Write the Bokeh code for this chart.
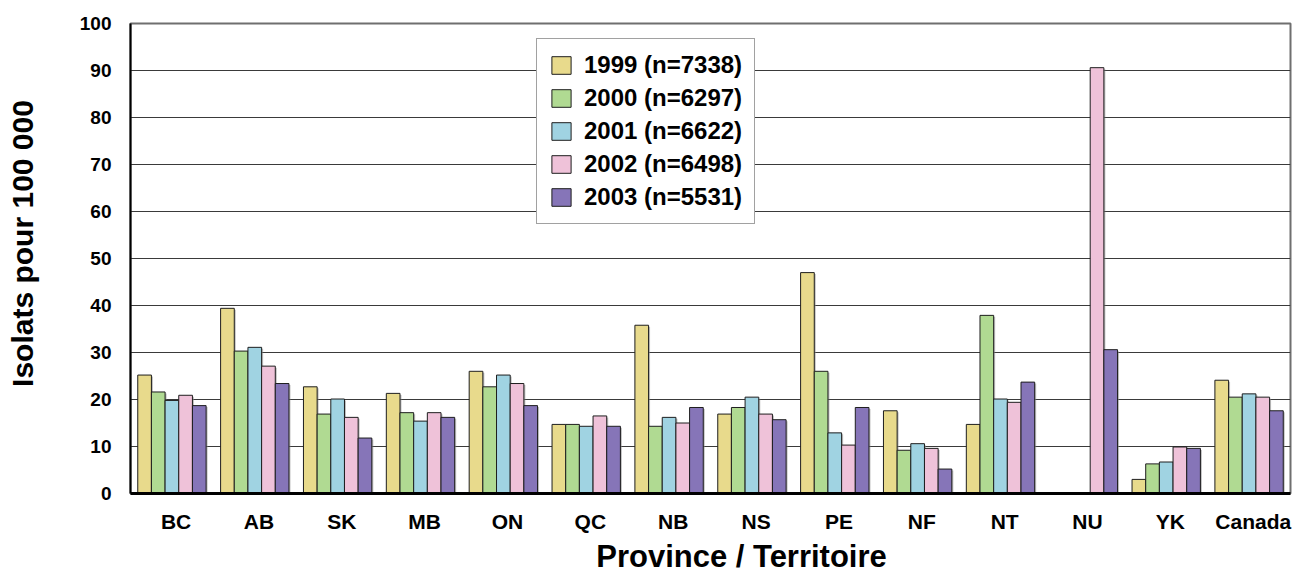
import math
from bokeh.plotting import figure
from bokeh.models import (ColumnDataSource, Range1d, FixedTicker, Legend, LegendItem, Label)
from bokeh.embed import file_html
from bokeh.resources import INLINE

# Isolates per 100 000 population, by province / territory and year
provinces = ["BC", "AB", "SK", "MB", "ON", "QC", "NB", "NS", "PE", "NF", "NT", "NU", "YK", "Canada"]
years = ["1999 (n=7338)", "2000 (n=6297)", "2001 (n=6622)", "2002 (n=6498)", "2003 (n=5531)"]

rate_1999 = [25.2, 39.4, 22.7, 21.3, 26.0, 14.7, 35.8, 16.9, 47.0, 17.6, 14.7, 0.0, 3.0, 24.1]
rate_2000 = [21.6, 30.3, 16.9, 17.2, 22.7, 14.7, 14.3, 18.3, 26.0, 9.2, 37.9, 0.0, 6.3, 20.5]
rate_2001 = [19.8, 31.1, 20.1, 15.4, 25.2, 14.3, 16.2, 20.5, 12.9, 10.6, 20.1, 0.0, 6.7, 21.2]
rate_2002 = [20.9, 27.1, 16.2, 17.2, 23.4, 16.5, 15.0, 16.9, 10.3, 9.6, 19.4, 90.6, 9.9, 20.5]
rate_2003 = [18.7, 23.4, 11.8, 16.2, 18.7, 14.3, 18.3, 15.7, 18.3, 5.2, 23.7, 30.6, 9.6, 17.6]

y_ticks = [0, 10, 20, 30, 40, 50, 60, 70, 80, 90, 100]

series = [rate_1999, rate_2000, rate_2001, rate_2002, rate_2003]
colors = ["#E8DA8C", "#B0DA92", "#A0D3E2", "#EFC2D9", "#8675B8"]

FONT = "Liberation Sans"
BAR_W = 0.165
FRAME_W, FRAME_H = 1160, 470

p = figure(width=1293, height=575, output_backend="svg", toolbar_location=None,
           x_range=Range1d(0, len(provinces)), y_range=Range1d(0, 100),
           min_border_left=130, min_border_right=3, min_border_top=23, min_border_bottom=82)

p.background_fill_color = "white"
p.border_fill_color = "white"
p.outline_line_color = "#6f6f6f"
p.outline_line_width = 2

# y axis
p.yaxis.ticker = FixedTicker(ticks=y_ticks)
p.yaxis.axis_line_color = "black"
p.yaxis.axis_line_width = 2
p.yaxis.major_tick_line_color = None
p.yaxis.minor_tick_line_color = None
p.yaxis.major_label_text_font = FONT
p.yaxis.major_label_text_font_style = "bold"
p.yaxis.major_label_text_font_size = "19px"
p.yaxis.major_label_text_color = "black"
p.yaxis.major_label_standoff = 13

# x axis: one label per province group
centers = [i + 0.5 for i in range(len(provinces))]
label_pos = [c + 0.05 for c in centers]
p.xaxis.ticker = FixedTicker(ticks=label_pos)
p.xaxis.major_label_overrides = {pos: name for pos, name in zip(label_pos, provinces)}
p.xaxis.axis_line_color = "black"
p.xaxis.axis_line_width = 3
p.xaxis.major_tick_line_color = None
p.xaxis.minor_tick_line_color = None
p.xaxis.major_label_text_font = FONT
p.xaxis.major_label_text_font_style = "bold"
p.xaxis.major_label_text_font_size = "21px"
p.xaxis.major_label_text_color = "black"
p.xaxis.major_label_standoff = 10

p.xgrid.grid_line_color = None
p.ygrid.ticker = FixedTicker(ticks=y_ticks)
p.ygrid.grid_line_color = "#3a3a3a"
p.ygrid.grid_line_width = 1

# axis titles, placed in the side panels outside the frame
p.add_layout(Label(x=611, y=14, x_units="screen", y_units="screen",
                   text="Province / Territoire", text_align="center",
                   text_baseline="alphabetic", text_font=FONT, text_font_style="bold",
                   text_font_size="31px", text_color="black"), "below")
p.add_layout(Label(x=-21, y=250, x_units="screen", y_units="screen",
                   text="Isolats pour 100 000", angle=math.pi / 2, text_align="center",
                   text_baseline="alphabetic", text_font=FONT, text_font_style="bold",
                   text_font_size="30px", text_color="black"), "left")

# px-to-data conversions for the soft drop shadow behind each bar
px_x = len(provinces) / FRAME_W
px_y = 100.0 / FRAME_H

items = []
for k, (vals, col, lab) in enumerate(zip(series, colors, years)):
    xs = [c + (k - 2) * BAR_W for c in centers]
    shadow = ColumnDataSource(dict(x=[x + 1.5 * px_x for x in xs],
                                   top=[max(v - 1.5 * px_y, 0) for v in vals]))
    p.vbar(x="x", top="top", bottom=0, width=BAR_W, source=shadow,
           fill_color="#8a8a8a", fill_alpha=0.55, line_color=None)
    src = ColumnDataSource(dict(x=xs, top=vals))
    r = p.vbar(x="x", top="top", bottom=0, width=BAR_W, source=src,
               fill_color=col, line_color="#1e1e1e", line_width=1)
    items.append(LegendItem(label=lab, renderers=[r]))

legend = Legend(items=items, location=(406, 269))
legend.label_text_font = FONT
legend.label_text_font_style = "bold"
legend.label_text_font_size = "24px"
legend.label_text_color = "black"
legend.glyph_width = 24
legend.glyph_height = 22
legend.label_height = 22
legend.label_standoff = 11
legend.spacing = 5
legend.padding = 12
legend.margin = 0
legend.border_line_color = "#444444"
legend.border_line_width = 1
legend.background_fill_color = "white"
legend.background_fill_alpha = 1
p.add_layout(legend, "center")

open("out.html", "w").write(file_html(p, INLINE))
